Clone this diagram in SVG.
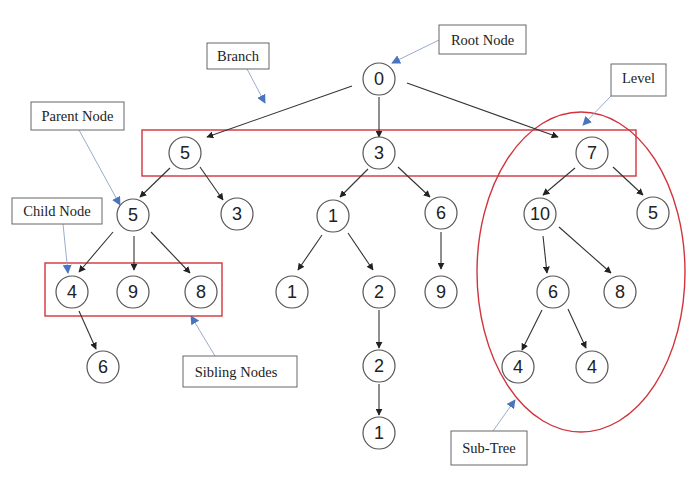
<svg xmlns="http://www.w3.org/2000/svg" width="700" height="485" viewBox="0 0 700 485">
<style>
.n circle{fill:#fff;stroke:#555;stroke-width:1.2}
.n text{font-family:"Liberation Sans",Arial,sans-serif;font-size:18px;fill:#222;text-anchor:middle;dominant-baseline:central}
.e line{stroke:#333;stroke-width:1.1;marker-end:url(#ah)}
.lb rect{fill:#fff;stroke:#666;stroke-width:1}
.lb text{font-family:"Liberation Serif","Times New Roman",serif;font-size:14.5px;fill:#222;text-anchor:middle;dominant-baseline:central}
.ptr line{stroke:#9aaccc;stroke-width:1;marker-end:url(#bh)}
.hl{fill:none;stroke:#d1343c;stroke-width:1.4}
</style>
<defs>
<marker id="ah" viewBox="0 0 10 10" refX="9" refY="5" markerWidth="7" markerHeight="7" markerUnits="userSpaceOnUse" orient="auto"><path d="M0,0 L10,5 L0,10 z" fill="#222"/></marker>
<marker id="bh" viewBox="0 0 10 10" refX="9" refY="5" markerWidth="9" markerHeight="9" markerUnits="userSpaceOnUse" orient="auto"><path d="M0,0 L10,5 L0,10 z" fill="#4a74be"/></marker>
</defs>
<rect width="700" height="485" fill="#fff"/>
<g id="highlights">
<rect class="hl" x="142" y="130" width="494" height="46"/>
<rect class="hl" x="45" y="263" width="177" height="53"/>
<ellipse class="hl" cx="581" cy="272" rx="104" ry="160"/>
</g>
<g id="connectors" class="e">
<line x1="352" y1="86" x2="207" y2="137"/>
<line x1="379" y1="97" x2="379" y2="137"/>
<line x1="407" y1="83" x2="558" y2="137"/>
<line x1="170" y1="168" x2="140" y2="197"/>
<line x1="200" y1="167" x2="223" y2="200"/>
<line x1="368" y1="169" x2="340" y2="197"/>
<line x1="398" y1="167" x2="430" y2="197"/>
<line x1="575" y1="168" x2="543" y2="195"/>
<line x1="613" y1="167" x2="643" y2="195"/>
<line x1="113" y1="232" x2="79" y2="272"/>
<line x1="134" y1="236" x2="134" y2="270"/>
<line x1="151" y1="232" x2="190" y2="273"/>
<line x1="322" y1="235" x2="298" y2="270"/>
<line x1="348" y1="233" x2="373" y2="270"/>
<line x1="441" y1="232" x2="441" y2="269"/>
<line x1="543" y1="236" x2="547" y2="273"/>
<line x1="559" y1="227" x2="611" y2="273"/>
<line x1="79" y1="311" x2="96" y2="349"/>
<line x1="379" y1="310" x2="379" y2="348"/>
<line x1="542" y1="310" x2="522" y2="350"/>
<line x1="568" y1="309" x2="586" y2="348"/>
<line x1="379" y1="384" x2="379" y2="415"/>
</g>
<g id="n0" class="n"><circle cx="379" cy="79" r="16"/><text x="379" y="79">0</text></g>
<g id="n5a" class="n"><circle cx="185" cy="153" r="16"/><text x="185" y="153">5</text></g>
<g id="n3a" class="n"><circle cx="379" cy="153" r="16"/><text x="379" y="153">3</text></g>
<g id="n7" class="n"><circle cx="592" cy="153" r="16"/><text x="592" y="153">7</text></g>
<g id="n5b" class="n"><circle cx="133" cy="215" r="16"/><text x="133" y="215">5</text></g>
<g id="n3b" class="n"><circle cx="237" cy="214" r="16"/><text x="237" y="214">3</text></g>
<g id="n1a" class="n"><circle cx="333" cy="216" r="16"/><text x="333" y="216">1</text></g>
<g id="n6a" class="n"><circle cx="441" cy="213" r="16"/><text x="441" y="213">6</text></g>
<g id="n10" class="n"><circle cx="540" cy="214" r="16"/><text x="540" y="214">10</text></g>
<g id="n5c" class="n"><circle cx="653" cy="213" r="16"/><text x="653" y="213">5</text></g>
<g id="n4a" class="n"><circle cx="72" cy="292" r="16"/><text x="72" y="292">4</text></g>
<g id="n9a" class="n"><circle cx="133" cy="292" r="16"/><text x="133" y="292">9</text></g>
<g id="n8a" class="n"><circle cx="201" cy="292" r="16"/><text x="201" y="292">8</text></g>
<g id="n1b" class="n"><circle cx="292" cy="292" r="16"/><text x="292" y="292">1</text></g>
<g id="n2a" class="n"><circle cx="379" cy="292" r="16"/><text x="379" y="292">2</text></g>
<g id="n9b" class="n"><circle cx="441" cy="292" r="16"/><text x="441" y="292">9</text></g>
<g id="n6b" class="n"><circle cx="553" cy="292" r="16"/><text x="553" y="292">6</text></g>
<g id="n8b" class="n"><circle cx="620" cy="292" r="16"/><text x="620" y="292">8</text></g>
<g id="n6c" class="n"><circle cx="103" cy="367" r="16"/><text x="103" y="367">6</text></g>
<g id="n2b" class="n"><circle cx="379" cy="366" r="16"/><text x="379" y="366">2</text></g>
<g id="n4b" class="n"><circle cx="518" cy="367" r="16"/><text x="518" y="367">4</text></g>
<g id="n4c" class="n"><circle cx="592" cy="367" r="16"/><text x="592" y="367">4</text></g>
<g id="n1c" class="n"><circle cx="379" cy="433" r="16"/><text x="379" y="433">1</text></g>
<g id="pointers" class="ptr">
<line x1="439" y1="40" x2="392" y2="63"/>
<line x1="247" y1="69" x2="265" y2="103"/>
<line x1="79" y1="130" x2="120" y2="205"/>
<line x1="63" y1="224" x2="68" y2="273"/>
<line x1="215" y1="356" x2="191" y2="316"/>
<line x1="611" y1="96" x2="583" y2="125"/>
<line x1="493" y1="431" x2="515" y2="400"/>
</g>
<g id="lbl-root" class="lb"><rect x="439" y="25" width="87" height="29"/><text x="482.5" y="39.5">Root Node</text></g>
<g id="lbl-branch" class="lb"><rect x="207" y="43" width="62" height="26"/><text x="238" y="56">Branch</text></g>
<g id="lbl-parent" class="lb"><rect x="31" y="102" width="93" height="28"/><text x="77.5" y="116">Parent Node</text></g>
<g id="lbl-child" class="lb"><rect x="12" y="198" width="90" height="26"/><text x="57" y="211">Child Node</text></g>
<g id="lbl-level" class="lb"><rect x="611" y="64" width="55" height="32"/><text x="638.5" y="78">Level</text></g>
<g id="lbl-sibling" class="lb"><rect x="183" y="356" width="114" height="31"/><text x="236" y="371.5">Sibling Nodes</text></g>
<g id="lbl-subtree" class="lb"><rect x="451" y="431" width="76" height="34"/><text x="489" y="448">Sub-Tree</text></g>
</svg>
